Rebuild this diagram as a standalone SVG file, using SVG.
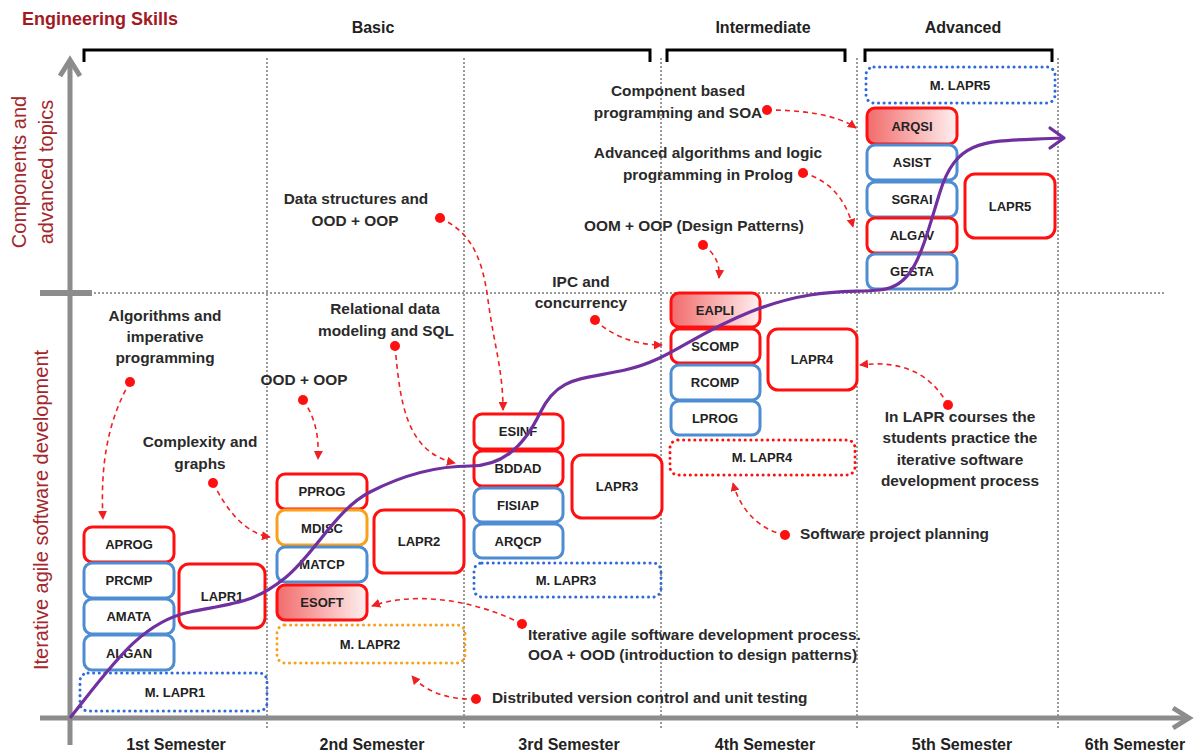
<svg xmlns="http://www.w3.org/2000/svg" width="1198" height="755" viewBox="0 0 1198 755">
<defs>
<linearGradient id="grad" x1="0" y1="0" x2="1" y2="0">
<stop offset="0" stop-color="#F26B6B"/>
<stop offset="1" stop-color="#FFF0F0"/>
</linearGradient>
<marker id="ah" viewBox="0 0 10 10" refX="9" refY="5" markerWidth="9" markerHeight="9" markerUnits="userSpaceOnUse" orient="auto">
<path d="M0,0 L10,5 L0,10 z" fill="#F02020"/>
</marker>
<style>
text{font-family:"Liberation Sans",Arial,sans-serif}
.box{stroke-width:3;fill:#fff}
.red{stroke:#FF1010}
.blue{stroke:#4F8DD3}
.orange{stroke:#F9A11B}
.g{fill:url(#grad)}
.lbl{font-size:13px;font-weight:bold;fill:#222;text-anchor:middle}
.dot{fill:none;stroke-width:3;stroke-dasharray:0.1 5.5;stroke-linecap:round}
.dblue{stroke:#2F6BD8}
.dred{stroke:#FF1010}
.dor{stroke:#F9A11B}
.ann{font-size:15.4px;font-weight:bold;fill:#2a2a2a}
.c{text-anchor:middle}
.arr{fill:none;stroke:#F02020;stroke-width:1.6;stroke-dasharray:5 4;marker-end:url(#ah)}
.pt{fill:#FF1010}
.grid{stroke:#9a9a9a;stroke-width:2;stroke-dasharray:2 2;fill:none}
.axis{stroke:#8c8c8c;stroke-width:5;fill:none}
.sem{font-size:16px;font-weight:bold;fill:#222;text-anchor:middle}
.lvl{font-size:16px;font-weight:bold;fill:#222;text-anchor:middle}
.side{font-size:20px;fill:#A3272B;text-anchor:middle}
.brk{stroke:#000;stroke-width:3;fill:none}
</style>
</defs>
<rect width="1198" height="755" fill="#fff"/>

<g id="grid">
<line class="grid" x1="267" y1="58" x2="267" y2="728"/>
<line class="grid" x1="464" y1="58" x2="464" y2="728"/>
<line class="grid" x1="661" y1="58" x2="661" y2="728"/>
<line class="grid" x1="857" y1="58" x2="857" y2="728"/>
<line class="grid" x1="1058" y1="58" x2="1058" y2="728"/>
<line class="grid" x1="90" y1="293" x2="1165" y2="293"/>
</g>

<g id="axes">
<line class="axis" x1="70" y1="745" x2="70" y2="60"/>
<path class="axis" d="M60,76 L70,60 L80,76"/>
<line class="axis" x1="40" y1="718" x2="1188" y2="718"/>
<path class="axis" d="M1173,708 L1189,718 L1173,728"/>
<line x1="40" y1="293" x2="92" y2="293" stroke="#8c8c8c" stroke-width="6"/>
</g>

<g id="titles">
<text x="22" y="25" font-size="18" font-weight="bold" fill="#A3191F">Engineering Skills</text>
<text class="lvl" x="373" y="33">Basic</text>
<text class="lvl" x="763" y="33">Intermediate</text>
<text class="lvl" x="963" y="33">Advanced</text>
<path class="brk" d="M84,62 L84,50 L650,50 L650,62"/>
<path class="brk" d="M667,62 L667,50 L845,50 L845,62"/>
<path class="brk" d="M865,62 L865,50 L1052,50 L1052,62"/>
<text class="side" transform="translate(26,172) rotate(-90)">Components and</text>
<text class="side" transform="translate(53,172) rotate(-90)">advanced topics</text>
<text class="side" transform="translate(48,510) rotate(-90)">Iterative agile software development</text>
<text class="sem" x="176" y="750">1st Semester</text>
<text class="sem" x="372" y="750">2nd Semester</text>
<text class="sem" x="569" y="750">3rd Semester</text>
<text class="sem" x="765" y="750">4th Semester</text>
<text class="sem" x="962" y="750">5th Semester</text>
<text class="sem" x="1135" y="750">6th Semester</text>
</g>

<!-- 1st semester -->
<g id="APROG"><rect class="box red" x="84" y="527" width="90" height="35" rx="8"/><text class="lbl" x="129" y="549">APROG</text></g>
<g id="PRCMP"><rect class="box blue" x="84" y="563" width="90" height="35" rx="8"/><text class="lbl" x="129" y="585">PRCMP</text></g>
<g id="AMATA"><rect class="box blue" x="84" y="599" width="90" height="35" rx="8"/><text class="lbl" x="129" y="621">AMATA</text></g>
<g id="ALGAN"><rect class="box blue" x="84" y="635" width="90" height="35" rx="8"/><text class="lbl" x="129" y="658">ALGAN</text></g>
<g id="LAPR1"><rect class="box red" x="179" y="564" width="86" height="64" rx="10"/><text class="lbl" x="222" y="601">LAPR1</text></g>
<g id="MLAPR1"><rect class="dot dblue" x="80" y="673" width="187" height="38" rx="8"/><text class="lbl" x="175" y="697">M. LAPR1</text></g>

<!-- 2nd semester -->
<g id="PPROG"><rect class="box red" x="277" y="474" width="90" height="35" rx="8"/><text class="lbl" x="322" y="496">PPROG</text></g>
<g id="MDISC"><rect class="box orange" x="277" y="510" width="90" height="35" rx="8"/><text class="lbl" x="322" y="533">MDISC</text></g>
<g id="MATCP"><rect class="box blue" x="277" y="547" width="90" height="35" rx="8"/><text class="lbl" x="322" y="569">MATCP</text></g>
<g id="ESOFT"><rect class="box red g" x="277" y="585" width="90" height="35" rx="8"/><text class="lbl" x="322" y="607">ESOFT</text></g>
<g id="LAPR2"><rect class="box red" x="374" y="510" width="90" height="63" rx="10"/><text class="lbl" x="419" y="546">LAPR2</text></g>
<g id="MLAPR2"><rect class="dot dor" x="277" y="625" width="188" height="38" rx="8"/><text class="lbl" x="370" y="649">M. LAPR2</text></g>

<!-- 3rd semester -->
<g id="ESINF"><rect class="box red" x="474" y="414" width="89" height="35" rx="8"/><text class="lbl" x="518" y="436">ESINF</text></g>
<g id="BDDAD"><rect class="box red" x="474" y="451" width="89" height="35" rx="8"/><text class="lbl" x="518" y="473">BDDAD</text></g>
<g id="FISIAP"><rect class="box blue" x="474" y="488" width="89" height="34" rx="8"/><text class="lbl" x="518" y="510">FISIAP</text></g>
<g id="ARQCP"><rect class="box blue" x="474" y="524" width="89" height="34" rx="8"/><text class="lbl" x="518" y="546">ARQCP</text></g>
<g id="LAPR3"><rect class="box red" x="572" y="455" width="90" height="63" rx="10"/><text class="lbl" x="617" y="491">LAPR3</text></g>
<g id="MLAPR3"><rect class="dot dblue" x="474" y="563" width="187" height="34" rx="8"/><text class="lbl" x="566" y="585">M. LAPR3</text></g>

<!-- 4th semester -->
<g id="EAPLI"><rect class="box red g" x="671" y="293" width="89" height="34" rx="8"/><text class="lbl" x="715" y="315">EAPLI</text></g>
<g id="SCOMP"><rect class="box red" x="671" y="329" width="89" height="34" rx="8"/><text class="lbl" x="715" y="351">SCOMP</text></g>
<g id="RCOMP"><rect class="box blue" x="671" y="365" width="89" height="35" rx="8"/><text class="lbl" x="715" y="387">RCOMP</text></g>
<g id="LPROG"><rect class="box blue" x="671" y="401" width="89" height="34" rx="8"/><text class="lbl" x="715" y="423">LPROG</text></g>
<g id="LAPR4"><rect class="box red" x="768" y="329" width="89" height="61" rx="10"/><text class="lbl" x="812" y="364">LAPR4</text></g>
<g id="MLAPR4"><rect class="dot dred" x="670" y="440" width="185" height="35" rx="8"/><text class="lbl" x="762" y="462">M. LAPR4</text></g>

<!-- 5th semester -->
<g id="MLAPR5"><rect class="dot dblue" x="866" y="67" width="189" height="36" rx="8"/><text class="lbl" x="960" y="90">M. LAPR5</text></g>
<g id="ARQSI"><rect class="box red g" x="867" y="108" width="90" height="36" rx="8"/><text class="lbl" x="912" y="131">ARQSI</text></g>
<g id="ASIST"><rect class="box blue" x="867" y="145" width="90" height="35" rx="8"/><text class="lbl" x="912" y="167">ASIST</text></g>
<g id="SGRAI"><rect class="box blue" x="867" y="182" width="90" height="35" rx="8"/><text class="lbl" x="912" y="204">SGRAI</text></g>
<g id="ALGAV"><rect class="box red" x="867" y="218" width="90" height="35" rx="8"/><text class="lbl" x="912" y="240">ALGAV</text></g>
<g id="GESTA"><rect class="box blue" x="867" y="254" width="90" height="35" rx="8"/><text class="lbl" x="912" y="276">GESTA</text></g>
<g id="LAPR5"><rect class="box red" x="965" y="174" width="90" height="64" rx="10"/><text class="lbl" x="1010" y="211">LAPR5</text></g>

<g id="progress-curve">
<path d="M70,718 C 110,668 140,622 190,612 S 255,602 285,578 S 335,510 370,492 S 440,466 470,466 S 522,450 540,413 S 580,380 625,370 S 690,336 750,312 S 845,293 880,290 S 922,250 940,192 S 990,142 1062,138" fill="none" stroke="#7030A0" stroke-width="3.2"/>
<path d="M1050,128 L1064,138 L1050,148" fill="none" stroke="#7030A0" stroke-width="3.2" stroke-linejoin="round" stroke-linecap="round"/>
</g>

<g id="annotations">
<text class="ann c" x="165" y="321">Algorithms and</text>
<text class="ann c" x="165" y="342">imperative</text>
<text class="ann c" x="165" y="363">programming</text>
<text class="ann c" x="200" y="447">Complexity and</text>
<text class="ann c" x="200" y="469">graphs</text>
<text class="ann c" x="304" y="385">OOD + OOP</text>
<text class="ann c" x="356" y="204">Data structures and</text>
<text class="ann c" x="355" y="226">OOD + OOP</text>
<text class="ann c" x="385" y="314">Relational data</text>
<text class="ann c" x="386" y="336">modeling and SQL</text>
<text class="ann c" x="581" y="287">IPC and</text>
<text class="ann c" x="581" y="308">concurrency</text>
<text class="ann c" x="694" y="231">OOM + OOP (Design Patterns)</text>
<text class="ann c" x="708" y="158">Advanced algorithms and logic</text>
<text class="ann c" x="708" y="180">programming in Prolog</text>
<text class="ann c" x="678" y="96">Component based</text>
<text class="ann c" x="678" y="118">programming and SOA</text>
<text class="ann c" x="960" y="422">In LAPR courses the</text>
<text class="ann c" x="960" y="443">students practice the</text>
<text class="ann c" x="960" y="465">iterative software</text>
<text class="ann c" x="960" y="486">development process</text>
<text class="ann" x="800" y="539">Software project planning</text>
<text class="ann" x="528" y="640">Iterative agile software development process.</text>
<text class="ann" x="528" y="660">OOA + OOD (introduction to design patterns)</text>
<text class="ann" x="492" y="703">Distributed version control and unit testing</text>
</g>

<g id="connectors">
<path class="arr" d="M130,382 C 108,420 100,465 103,519"/>
<path class="arr" d="M213,483 C 228,512 245,533 270,537"/>
<path class="arr" d="M303,400 C 316,418 319,438 318,459"/>
<path class="arr" d="M440,218 C 470,232 482,255 488,300 S 503,370 503,410"/>
<path class="arr" d="M395,346 C 400,400 405,452 455,463"/>
<path class="arr" d="M595,320 C 612,336 635,345 662,345"/>
<path class="arr" d="M703,245 C 716,254 720,265 719,278"/>
<path class="arr" d="M803,173 C 830,180 846,200 853,227"/>
<path class="arr" d="M767,110 C 800,110 836,114 856,128"/>
<path class="arr" d="M948,405 C 930,372 900,360 860,365"/>
<path class="arr" d="M785,535 C 760,530 740,510 733,483"/>
<path class="arr" d="M522,624 C 472,598 410,592 372,606"/>
<path class="arr" d="M476,699 C 445,700 424,690 412,676"/>
<circle class="pt" cx="130" cy="382" r="5"/>
<circle class="pt" cx="213" cy="483" r="5"/>
<circle class="pt" cx="303" cy="400" r="5"/>
<circle class="pt" cx="440" cy="218" r="5"/>
<circle class="pt" cx="395" cy="346" r="5"/>
<circle class="pt" cx="595" cy="320" r="5"/>
<circle class="pt" cx="703" cy="245" r="5"/>
<circle class="pt" cx="803" cy="173" r="5"/>
<circle class="pt" cx="767" cy="110" r="5"/>
<circle class="pt" cx="948" cy="405" r="5"/>
<circle class="pt" cx="785" cy="535" r="5"/>
<circle class="pt" cx="522" cy="624" r="5"/>
<circle class="pt" cx="476" cy="699" r="5"/>
</g>
</svg>
